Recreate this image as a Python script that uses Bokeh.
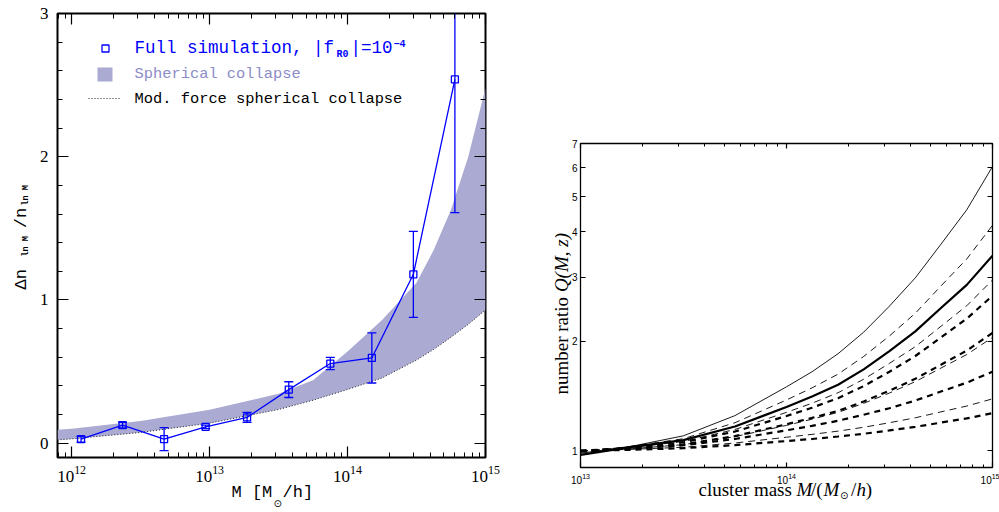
import math

from bokeh.embed import file_html
from bokeh.layouts import row
from bokeh.models import (CustomJSTickFormatter, FixedTicker, Label, LinearAxis, LogAxis,
                          PrintfTickFormatter)
from bokeh.plotting import figure
from bokeh.resources import INLINE

# ---------------------------------------------------------------------------
# Left panel: fractional excess of the halo mass function
# ---------------------------------------------------------------------------
sim_mass = [1.17e12, 2.34e12, 4.68e12, 9.36e12, 1.87e13, 3.75e13, 7.5e13, 1.5e14, 3.0e14, 6.0e14]
sim_dn = [0.028, 0.126, 0.028, 0.114, 0.18, 0.374, 0.556, 0.595, 1.179, 2.54]
sim_err = [0.02, 0.02, 0.08, 0.012, 0.035, 0.055, 0.043, 0.175, 0.30, 0.93]

band_mass = [7.9e11, 1e12, 3.16e12, 1e13, 3.16e13, 5.62e13, 1e14, 1.78e14,
             3.16e14, 4.22e14, 5.62e14, 7.5e14, 1e15]
band_upper = [0.093, 0.10, 0.155, 0.233, 0.345, 0.44, 0.64, 0.86,
              1.12, 1.35, 1.63, 2.0, 2.48]
band_lower = [0.023, 0.03, 0.075, 0.14, 0.235, 0.30, 0.375, 0.455,
              0.58, 0.655, 0.74, 0.83, 0.93]

left_major_x = [1e12, 1e13, 1e14, 1e15]
left_minor_x = [8e11, 9e11] + [k * 10 ** e for e in (12, 13, 14) for k in range(2, 10)]
left_major_y = [0, 1, 2, 3]
left_minor_y = [0.2, 0.4, 0.6, 0.8, 1.2, 1.4, 1.6, 1.8, 2.2, 2.4, 2.6, 2.8]

# ---------------------------------------------------------------------------
# Right panel: number ratio Q(M, z) for several models
# ---------------------------------------------------------------------------
q_mass = [1e13, 1.78e13, 3.16e13, 5.62e13, 1e14, 1.33e14, 1.78e14, 2.37e14,
          3.16e14, 4.22e14, 5.62e14, 7.5e14, 1e15]
q_curves = [
    [0.985, 1.03, 1.10, 1.25, 1.50, 1.65, 1.85, 2.12, 2.50, 2.99, 3.70, 4.60, 6.05],
    [0.99, 1.03, 1.08, 1.195, 1.38, 1.49, 1.625, 1.818, 2.07, 2.39, 2.84, 3.37, 4.17],
    [0.975, 1.025, 1.07, 1.167, 1.32, 1.41, 1.52, 1.675, 1.88, 2.13, 2.47, 2.86, 3.44],
    [1.0, 1.022, 1.061, 1.145, 1.276, 1.352, 1.445, 1.574, 1.74, 1.934, 2.20, 2.506, 2.95],
    [1.0, 1.02, 1.056, 1.13, 1.247, 1.314, 1.396, 1.507, 1.65, 1.823, 2.05, 2.31, 2.67],
    [1.0, 1.015, 1.042, 1.098, 1.183, 1.232, 1.288, 1.367, 1.463, 1.578, 1.725, 1.887, 2.11],
    [1.0, 1.014, 1.04, 1.094, 1.175, 1.222, 1.276, 1.351, 1.442, 1.55, 1.689, 1.84, 2.05],
    [1.0, 1.015, 1.036, 1.078, 1.139, 1.171, 1.21, 1.257, 1.31, 1.375, 1.456, 1.54, 1.65],
    [1.0, 1.01, 1.023, 1.051, 1.09, 1.11, 1.133, 1.161, 1.195, 1.233, 1.28, 1.328, 1.39],
    [1.0, 1.007, 1.017, 1.037, 1.064, 1.078, 1.095, 1.114, 1.138, 1.164, 1.196, 1.228, 1.27],
]
# (line width, dash) for each curve above
q_styles = [
    (0.9, "solid"), (0.9, "7 5"), (2.2, "solid"), (0.9, "7 5"), (2.2, "6 5"),
    (2.2, "6 5"), (0.9, "7 5"), (2.2, "6 5"), (0.9, "7 5"), (2.2, "6 5"),
]
right_major_x = [1e13, 1e14, 1e15]
right_minor_x = [k * 10 ** e for e in (13, 14) for k in range(2, 10)]
right_major_y = [1, 2, 3, 4, 5, 6, 7]

BLUE = "#0000ff"
BAND = "#aaaad2"
BAND_TEXT = "#8c8cc8"
HERSHEY = "Liberation Mono"
SERIF = "Liberation Serif"
SANS = "Liberation Sans"
SYMBOL = "DejaVu Sans"
NB = "\u00a0"
UP = math.pi / 2


def style_axis(ax, major_in, minor_in, size, font, standoff, show=True):
    ax.axis_line_color = None
    ax.major_tick_in = major_in
    ax.major_tick_out = 0
    ax.minor_tick_in = minor_in
    ax.minor_tick_out = 0
    ax.major_tick_line_color = "black"
    ax.minor_tick_line_color = "black"
    ax.major_tick_line_width = 1.2
    ax.minor_tick_line_width = 1.0
    ax.major_label_text_font = font
    ax.major_label_text_font_style = "normal"
    ax.major_label_text_color = "black"
    ax.axis_label = None
    if show:
        ax.major_label_standoff = standoff
        ax.major_label_text_font_size = size
    else:
        # tick marks only, on the opposite frame edge
        ax.formatter = CustomJSTickFormatter(code="return ''")
        ax.major_label_standoff = 0
        ax.major_label_text_font_size = "1px"
        ax.major_label_text_color = None


def put(fig, side, X, Y, text, size, font=SERIF, color="black", style="normal", angle=0.0):
    """Text at canvas pixel (X from left, Y from top); side picks the panel that holds it."""
    lab = Label(x=X, y=Y, x_units="canvas", y_units="canvas", text=text,
                text_font=font, text_font_size=f"{size}px", text_font_style=style,
                text_color=color, angle=angle, text_align="left", text_baseline="middle")
    if side == "center":
        fig.add_layout(lab)
    else:
        fig.add_layout(lab, side)


# ----------------------------- left figure ---------------------------------
LF = dict(left=57, right=485, top=13, bottom=457)
L_XLOG = (math.log10(7.9e11), 15.0)
L_Y = (-0.1, 3.0)

left = figure(width=500, height=512, x_axis_type="log",
              x_range=(10 ** L_XLOG[0], 10 ** L_XLOG[1]), y_range=L_Y,
              output_backend="svg", toolbar_location=None,
              min_border_left=LF["left"], min_border_right=500 - LF["right"],
              min_border_top=LF["top"], min_border_bottom=512 - LF["bottom"])
left.frame_align = False
left.grid.visible = False
left.outline_line_color = "black"
left.outline_line_width = 2
left.background_fill_color = "white"
left.border_fill_color = "white"


def left_data(px, py):
    fx = (px - LF["left"]) / (LF["right"] - LF["left"])
    fy = (LF["bottom"] - py) / (LF["bottom"] - LF["top"])
    return (10 ** (L_XLOG[0] + fx * (L_XLOG[1] - L_XLOG[0])),
            L_Y[0] + fy * (L_Y[1] - L_Y[0]))


left.varea(x=band_mass, y1=band_lower, y2=band_upper, fill_color=BAND, fill_alpha=1.0)
left.line(band_mass, band_lower, line_color="#222222", line_width=1.0, line_dash="1 2")

err_lo = [d - e for d, e in zip(sim_dn, sim_err)]
err_hi = [d + e for d, e in zip(sim_dn, sim_err)]
left.line(sim_mass, sim_dn, line_color=BLUE, line_width=1.3)
left.segment(x0=sim_mass, y0=err_lo, x1=sim_mass, y1=err_hi, line_color=BLUE, line_width=1.3)
left.scatter(sim_mass, err_lo, marker="dash", size=9, line_color=BLUE, line_width=1.3)
left.scatter(sim_mass, err_hi, marker="dash", size=9, line_color=BLUE, line_width=1.3)
left.scatter(sim_mass, sim_dn, marker="square", size=7, fill_color=None,
             line_color=BLUE, line_width=1.3)

lx_ticker = FixedTicker(ticks=left_major_x, minor_ticks=left_minor_x)
ly_ticker = FixedTicker(ticks=left_major_y, minor_ticks=left_minor_y)
left.xaxis.ticker = lx_ticker
left.yaxis.ticker = ly_ticker
style_axis(left.xaxis[0], 11, 5, "17px", SERIF, 8)
style_axis(left.yaxis[0], 11, 5, "17px", SERIF, 9)
l_top = LogAxis(ticker=lx_ticker)
l_right = LinearAxis(ticker=ly_ticker)
style_axis(l_top, 11, 5, "17px", SERIF, 0, show=False)
style_axis(l_right, 11, 5, "17px", SERIF, 0, show=False)
left.add_layout(l_top, "above")
left.add_layout(l_right, "right")

# legend swatches
sq = left_data(105, 48)
left.scatter([sq[0]], [sq[1]], marker="square", size=7, fill_color=None,
             line_color=BLUE, line_width=1.3)
r0 = left_data(97, 81)
r1 = left_data(112, 67)
left.quad(left=[r0[0]], right=[r1[0]], bottom=[r0[1]], top=[r1[1]],
          fill_color=BAND, line_color=None)
d0 = left_data(88, 98)
d1 = left_data(121, 98)
left.line([d0[0], d1[0]], [d0[1], d1[1]], line_color="#222222", line_width=1.0, line_dash="1 2")

# legend text
put(left, "center", 134, 47.5, "Full simulation, |f", 17.5, HERSHEY, BLUE)
put(left, "center", 336, 53.5, "R0", 10, HERSHEY, BLUE, "bold")
put(left, "center", 350, 47.5, "|=10", 17.5, HERSHEY, BLUE)
put(left, "center", 393, 42.5, "\u22124", 10, HERSHEY, BLUE, "bold")
put(left, "center", 134, 73, "Spherical collapse", 15.4, HERSHEY, BAND_TEXT)
put(left, "center", 134, 98, "Mod. force spherical collapse", 15.4, HERSHEY, "black")

# axis titles
put(left, "below", 231, 492, "M [M" + NB + "/h]", 17, HERSHEY)
put(left, "left", 273, 503, "\u2299", 10, SYMBOL)
put(left, "left", 21, 289, "\u0394n" + NB * 4 + "/n", 17, HERSHEY, angle=UP)
put(left, "right", 25, 256, "ln M" + NB * 6 + "ln M", 8.5, HERSHEY, style="bold", angle=UP)

# ----------------------------- right figure --------------------------------
RW = 499
RF = dict(left=80, right=492, top=143, bottom=467)

right = figure(width=RW, height=512, x_axis_type="log", y_axis_type="log",
               x_range=(1e13, 1e15), y_range=(0.9, 7.0),
               output_backend="svg", toolbar_location=None,
               min_border_left=RF["left"], min_border_right=RW - RF["right"],
               min_border_top=RF["top"], min_border_bottom=512 - RF["bottom"])
right.frame_align = False
right.grid.visible = False
right.outline_line_color = "black"
right.outline_line_width = 1.3
right.background_fill_color = "white"
right.border_fill_color = "white"

for values, (width, dash) in zip(q_curves, q_styles):
    right.line(q_mass, values, line_color="black", line_width=width, line_dash=dash)

rx_ticker = FixedTicker(ticks=right_major_x, minor_ticks=right_minor_x)
ry_ticker = FixedTicker(ticks=right_major_y, minor_ticks=[])
right.xaxis.ticker = rx_ticker
right.yaxis.ticker = ry_ticker
right.yaxis.formatter = PrintfTickFormatter(format="%d")
style_axis(right.xaxis[0], 5, 3, "10px", SANS, 5)
style_axis(right.yaxis[0], 5, 3, "10px", SANS, 3)
r_top = LogAxis(ticker=rx_ticker)
r_right = LogAxis(ticker=ry_ticker)
style_axis(r_top, 5, 3, "10px", SANS, 0, show=False)
style_axis(r_right, 5, 3, "10px", SANS, 0, show=False)
right.add_layout(r_top, "above")
right.add_layout(r_right, "right")

# x title (canvas x of this figure = page x - 500)
put(right, "above", 198, 489,
    "cluster mass" + NB * 4 + "/(" + NB * 6 + "/" + NB * 2 + ")", 19)
put(right, "above", 296, 489, "M", 19, style="italic")
put(right, "above", 323, 489, "M", 19, style="italic")
put(right, "above", 356, 489, "h", 19, style="italic")
put(right, "above", 339.5, 495, "\u2299", 10, SYMBOL)
# y title
put(right, "left", 61, 394, "number ratio", 19, angle=UP)
put(right, "left", 61, 291.6, "Q(M, z)", 19, style="italic", angle=UP)

layout = row(left, right)
open("out.html", "w").write(file_html(layout, INLINE))
